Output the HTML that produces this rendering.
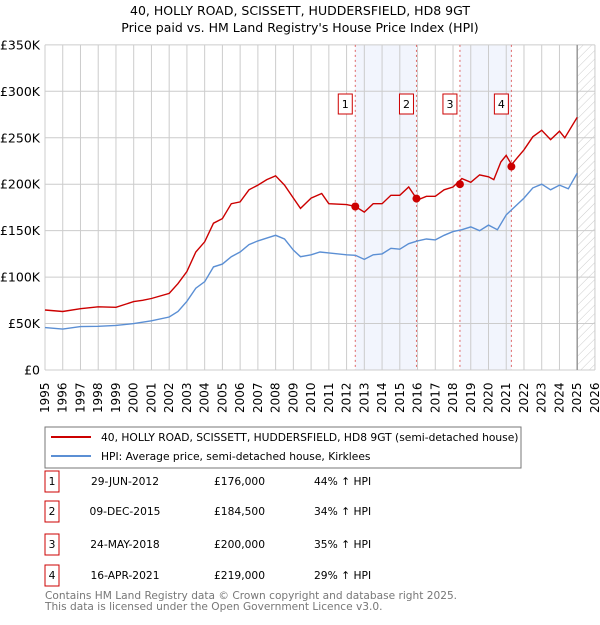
<!DOCTYPE html>
<html><head><meta charset="utf-8"><style>
body{margin:0;background:#fff;font-family:"Liberation Sans","DejaVu Sans",sans-serif;}
svg text{font-family:"DejaVu Sans","Liberation Sans",sans-serif;}
</style></head><body>
<svg id="c" width="600" height="620" xmlns="http://www.w3.org/2000/svg">
<defs><pattern id="hatch" width="6" height="6" patternUnits="userSpaceOnUse" patternTransform="rotate(45)"><line x1="0" y1="0" x2="0" y2="6" stroke="#ccc" stroke-width="1"/></pattern></defs>
<text x="300" y="15" text-anchor="middle" font-size="12.5" fill="#000">40, HOLLY ROAD, SCISSETT, HUDDERSFIELD, HD8 9GT</text>
<text x="300" y="32" text-anchor="middle" font-size="12.5" fill="#000">Price paid vs. HM Land Registry's House Price Index (HPI)</text>
<g id="plot"></g>
<rect x="45" y="427" width="476" height="41" fill="#fff" stroke="#777"/>
<line x1="51" y1="437" x2="91" y2="437" stroke="#cc0000" stroke-width="2"/>
<text x="101" y="441" font-size="10.7">40, HOLLY ROAD, SCISSETT, HUDDERSFIELD, HD8 9GT (semi-detached house)</text>
<line x1="51" y1="456" x2="91" y2="456" stroke="#5b8fd4" stroke-width="2"/>
<text x="101" y="460" font-size="10.7">HPI: Average price, semi-detached house, Kirklees</text>
<g id="table" font-size="10.7"></g>
<text x="45" y="599" font-size="10.6" fill="#777">Contains HM Land Registry data © Crown copyright and database right 2025.</text>
<text x="45" y="610" font-size="10.6" fill="#777">This data is licensed under the Open Government Licence v3.0.</text>
</svg>
<script>
const yTicks=[0,50,100,150,200,250,300,350];
const yTickLabels=["£0","£50K","£100K","£150K","£200K","£250K","£300K","£350K"];
const xYears=[1995,1996,1997,1998,1999,2000,2001,2002,2003,2004,2005,2006,2007,2008,2009,2010,2011,2012,2013,2014,2015,2016,2017,2018,2019,2020,2021,2022,2023,2024,2025,2026];
const hpiT=[1995,1996,1997,1998,1999,2000,2001,2002,2002.5,2003,2003.5,2004,2004.5,2005,2005.5,2006,2006.5,2007,2007.5,2008,2008.5,2009,2009.4,2010,2010.5,2011,2012,2012.5,2013,2013.5,2014,2014.5,2015,2015.5,2016,2016.5,2017,2017.5,2018,2018.5,2019,2019.5,2020,2020.5,2021,2021.5,2022,2022.5,2023,2023.5,2024,2024.5,2025];
const hpiV=[45.6,44,46.7,47,48,50,53,57,63,74,88,95,111,114,122,127,135,139,142,145,141,129,122,124,127,126,124,123.5,119,124,125,131,130,136,139,141,140,145,149,151,154,150,156,151,167,176,185,196,200,194,199,195,212];
const priceT=[1995,1996,1997,1998,1999,2000,2000.5,2001,2002,2002.5,2003,2003.5,2004,2004.5,2005,2005.5,2006,2006.5,2007,2007.5,2008,2008.5,2009,2009.4,2010,2010.6,2011,2012,2012.5,2013,2013.5,2014,2014.5,2015,2015.5,2016,2016.5,2017,2017.5,2018,2018.5,2019,2019.5,2020,2020.3,2020.7,2021,2021.3,2021.6,2022,2022.5,2023,2023.5,2024,2024.3,2025];
const priceV=[64.6,63,66,68,67.5,73.6,75,77,82.5,93,106,127,138,158,163,179,181,194,199,205,209,199,185,174,185,190,179,178,176,170,179,179,188,188,197,183,187,187,194,197,206,202,210,208,205,224,231,221,228,237,251,258,248,257,250,272];
const saleT=[2012.49,2015.94,2018.39,2021.29];
const saleV=[176,184.5,200,219];
const saleLabels=["1","2","3","4"];
const saleDates=["29-JUN-2012","09-DEC-2015","24-MAY-2018","16-APR-2021"];
const salePrices=["£176,000","£184,500","£200,000","£219,000"];
const saleHpi=["44% ↑ HPI","34% ↑ HPI","35% ↑ HPI","29% ↑ HPI"];

const NS="http://www.w3.org/2000/svg";
const X=t=>45+(t-1995)*17.74;
const Y=v=>370-v*0.929;
const plot=document.getElementById('plot');
function mk(tag,attrs,parent){const e=document.createElementNS(NS,tag);for(const k in attrs)e.setAttribute(k,attrs[k]);(parent||plot).appendChild(e);return e;}
for(let i=0;i<saleT.length;i+=2){
  const r=mk('rect',{x:X(saleT[i]),y:Y(350),width:X(saleT[i+1])-X(saleT[i]),height:Y(0)-Y(350),fill:'#f2f5fd'});
  
  
}
const h=mk('rect',{x:X(2025),y:Y(350),width:X(2026)-X(2025),height:Y(0)-Y(350),fill:'url(#hatch)'});


xYears.forEach(yr=>{
  const l=mk('line',{x1:X(yr),x2:X(yr),y1:Y(350),y2:Y(0),stroke:'#ccc'});
  
  
  const t=mk('text',{transform:`translate(${X(yr)+4},${413}) rotate(-90)`,'font-size':'12'});
  t.textContent=yr;
  
  
});
yTicks.forEach((v,i)=>{
  const l=mk('line',{x1:X(1995),x2:X(2026),y1:Y(v),y2:Y(v),stroke:'#ccc'});
  
  
  const t=mk('text',{x:40,y:Y(v)+4.5,'text-anchor':'end','font-size':'12.5'});
  t.textContent=yTickLabels[i];
  
  
});
const vl=mk('line',{x1:X(2025),x2:X(2025),y1:Y(350),y2:Y(0),stroke:'#999','stroke-width':1.5});


saleT.forEach((t,i)=>{
  const l=mk('line',{x1:X(t),x2:X(t),y1:Y(350),y2:Y(0),stroke:'#e06666','stroke-dasharray':'2,3'});
  
  
});
function path(T,V,color,name){
  const d=T.map((t,i)=>(i?'L':'M')+X(t).toFixed(1)+','+Y(V[i]).toFixed(1)).join('');
  const p=mk('path',{d:d,fill:'none',stroke:color,'stroke-width':1.4});
  
  
}
path(hpiT,hpiV,'#5b8fd4','hpi-line');
path(priceT,priceV,'#cc0000','price-line');
saleT.forEach((t,i)=>{
  const c=mk('circle',{cx:X(t),cy:Y(saleV[i]),r:4,fill:'#cc0000'});
  
  
  const bx=X(t)-10;
  const b=mk('rect',{x:bx-7,y:94,width:14,height:20,fill:'#fff',stroke:'#cc0000'});
  
  
  const tx=mk('text',{x:bx,y:108,'text-anchor':'middle','font-size':'11'});
  tx.textContent=saleLabels[i];
  
  
});
const tbl=document.getElementById('table');
const rowY=[481,511,544,575];
saleLabels.forEach((s,i)=>{
  const y=rowY[i];
  const b=mk('rect',{x:45,y:y-10,width:14,height:21,fill:'#fff',stroke:'#cc0000'},tbl);
  
  
  const cols=[[52,s,'middle'],[125,saleDates[i],'middle'],[265,salePrices[i],'end'],[314,saleHpi[i],'start']];
  cols.forEach(c=>{
    const t=mk('text',{x:c[0],y:y+4,'text-anchor':c[2]},tbl);
    t.textContent=c[1];
    
    
  });
});
</script>
</body></html>
